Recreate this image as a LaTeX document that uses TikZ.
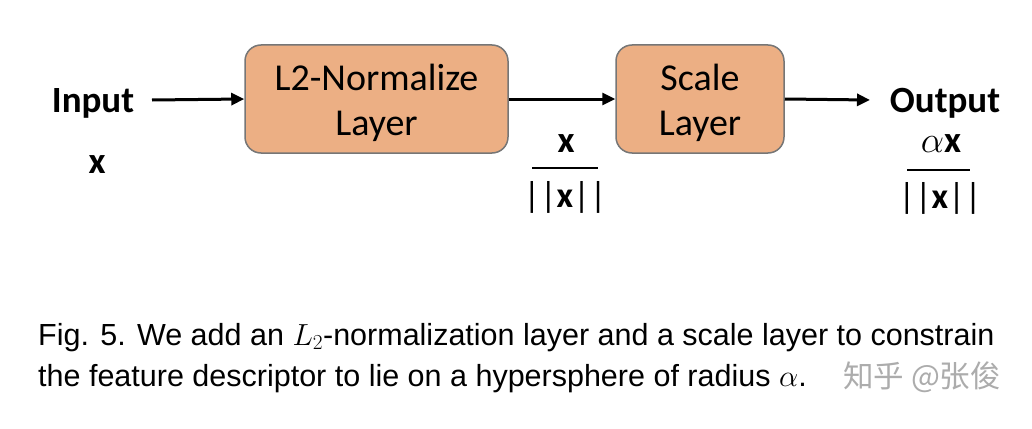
\RequirePackage{fix-cm}
\documentclass[tikz,border=0pt]{standalone}
\usepackage{fontspec}
\setmainfont{Carlito}
\newfontfamily\capfont{Liberation Sans}
\newfontfamily\cjk{Noto Sans CJK SC}
\usetikzlibrary{arrows.meta}
\definecolor{boxfill}{RGB}{236,175,132}
\definecolor{boxline}{RGB}{118,118,118}
\definecolor{wmark}{RGB}{172,172,172}
\newcommand{\boxlines}[2]{\raisebox{-4.5pt}[\height][\depth]{\begin{tabular}{@{}c@{}}#1\\#2\end{tabular}}}
\tikzset{
  layerbox/.style={draw=boxline, line width=1.5pt, fill=boxfill, rounded corners=16pt,
    font=\fontsize{38}{45}\selectfont, inner sep=0pt},
  flow/.style={line width=3pt, -{Triangle[length=13pt,width=12pt]}},
  lbl/.style={font=\fontsize{37}{40}\selectfont\bfseries, inner sep=0pt, anchor=base},
  barlbl/.style={font=\fontsize{36}{40}\selectfont, inner sep=0pt, anchor=base},
  fracline/.style={line width=2pt},
  captext/.style={font=\capfont\fontsize{30.5}{40}\selectfont, inner sep=0pt, anchor=base west},
  wm/.style={font=\cjk\fontsize{30.5}{34}\selectfont, text=wmark, inner sep=0pt, anchor=base west},
}
\begin{document}
\begin{tikzpicture}[x=1pt,y=-1pt]
\useasboundingbox[fill=white] (0,0) rectangle (1032,428);
% boxes
\node[layerbox, minimum width=263pt, minimum height=108pt] (norm) at (376.5,99) {\boxlines{L2-Normalize}{Layer}};
\node[layerbox, minimum width=168pt, minimum height=108pt] (scale) at (700,99) {\boxlines{Scale}{Layer}};
% labels
\node[lbl] (inp) at (93,112) {Input};
\node[lbl] (inx) at (97,173) {x};
\node[lbl] (out) at (945,112) {Output};
\coordinate (instart) at (152,100);
\coordinate (outend) at (870,100);
% arrows
\draw[flow] (instart) -- (norm.west);
\draw[flow] (norm.east) -- (scale.west);
\draw[flow] (scale.east) -- (outend);
% fraction 1
\node[lbl] (f1num) at (566,152) {x};
\draw[fracline] (532,168) -- (598,168);
\node[barlbl] (f1den) at (565,207) {||\textbf{x}||};
% fraction 2
\node[lbl] (f2num) at (941,152) {$\mathrm{\alpha}$x};
\draw[fracline] (907,170) -- (970,170);
\node[barlbl] (f2den) at (940,208) {||\textbf{x}||};
% caption
\node[captext] (c1) at (38,345) {Fig. 5. We add an $L_2$-normalization layer and a scale layer to constrain};
\node[captext] (c2) at (38,386) {the feature descriptor to lie on a hypersphere of radius $\alpha$.};
\node[wm] (wmk) at (843,387) {知乎 @张俊};
\end{tikzpicture}
\end{document}
